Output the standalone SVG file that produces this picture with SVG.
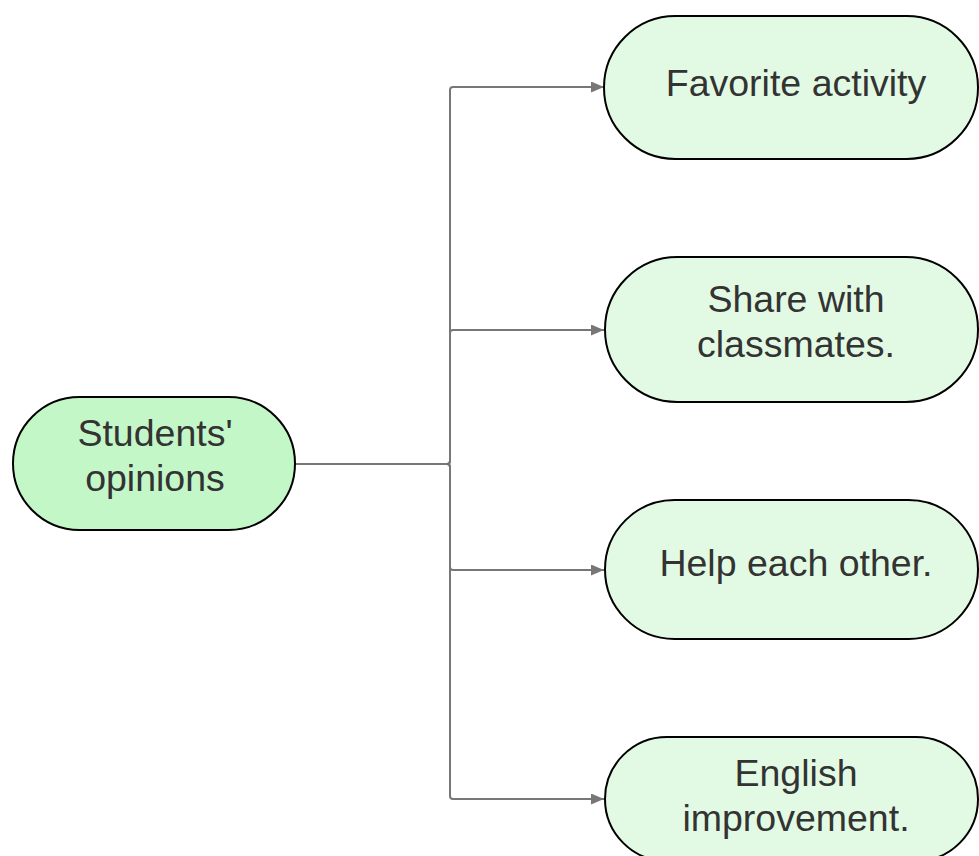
<svg xmlns="http://www.w3.org/2000/svg" width="979" height="856" viewBox="0 0 979 856">
<style>
.node{stroke:#000;stroke-width:2}
.root{fill:#c3f7c8}
.leaf{fill:#e2fae3}
.lbl{font-family:"Liberation Sans",Arial,sans-serif;font-size:37.5px;fill:#333;text-anchor:middle}
.conn{fill:none;stroke:#777;stroke-width:2}
</style>
<defs>
<marker id="arr" viewBox="0 0 13 11" refX="13" refY="5.5" markerWidth="13" markerHeight="11" markerUnits="userSpaceOnUse" orient="auto">
<path d="M0,0 L13,5.5 L0,11 Z" fill="#777"/>
</marker>
</defs>
<rect width="979" height="856" fill="#fff"/>
<g id="connectors">
<path class="conn" marker-end="url(#arr)" d="M295,464 H447 Q450,464 450,461 V90 Q450,87 453,87 H604"/>
<path class="conn" marker-end="url(#arr)" d="M295,464 H447 Q450,464 450,461 V333 Q450,330 453,330 H604"/>
<path class="conn" marker-end="url(#arr)" d="M295,464 H447 Q450,464 450,467 V567 Q450,570 453,570 H604"/>
<path class="conn" marker-end="url(#arr)" d="M295,464 H447 Q450,464 450,467 V796 Q450,799 453,799 H604"/>
</g>
<g id="node-root">
<rect class="node root" x="13" y="397" width="282" height="133" rx="66.5"/>
<text class="lbl" x="155" y="446">Students'</text>
<text class="lbl" x="155" y="491">opinions</text>
</g>
<g id="node-favorite">
<rect class="node leaf" x="604" y="16" width="374" height="143" rx="71.5"/>
<text class="lbl" x="796" y="96">Favorite activity</text>
</g>
<g id="node-share">
<rect class="node leaf" x="605" y="257" width="373" height="145" rx="72.5"/>
<text class="lbl" x="796" y="312">Share with</text>
<text class="lbl" x="796" y="357">classmates.</text>
</g>
<g id="node-help">
<rect class="node leaf" x="605" y="500" width="373" height="139" rx="69.5"/>
<text class="lbl" x="796" y="576">Help each other.</text>
</g>
<g id="node-english">
<rect class="node leaf" x="605" y="737" width="373" height="124" rx="62"/>
<text class="lbl" x="796" y="786">English</text>
<text class="lbl" x="796" y="831">improvement.</text>
</g>
</svg>
